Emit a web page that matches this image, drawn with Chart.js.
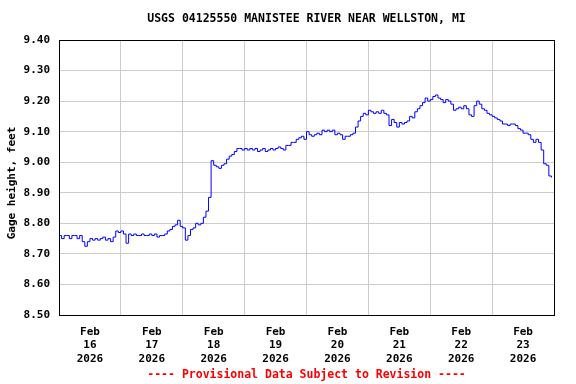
<!DOCTYPE html>
<html>
<head>
<meta charset="utf-8">
<script src="https://cdn.jsdelivr.net/npm/chart.js@4.4.1/dist/chart.umd.min.js"></script>
<style>
  html, body { margin: 0; padding: 0; background: #fff; }
  #wrap { width: 576px; height: 384px; }
</style>
</head>
<body>
<div id="wrap"><canvas id="chart" width="576" height="384"></canvas></div>
<script>
// ===== Data =====
const titleText = "USGS 04125550 MANISTEE RIVER NEAR WELLSTON, MI";
const footerText = "---- Provisional Data Subject to Revision ----";
const yAxisText = "Gage height, feet";
const monthLabel = "Feb";
const yearLabel = "2026";
const dayLabels = ["16", "17", "18", "19", "20", "21", "22", "23"];
const yMin = 8.5;
const yMax = 9.4;
const yStep = 0.1;

// hourly gage height (feet), starting Feb 16 00:00
const gageHeight = [
  8.76, 8.75, 8.76, 8.76, 8.75, 8.76, 8.76, 8.75, 8.76, 8.74, 8.725, 8.74,
  8.75, 8.745, 8.75, 8.745, 8.75, 8.755, 8.745, 8.75, 8.74, 8.755, 8.775, 8.77,
  8.775, 8.765, 8.735, 8.765, 8.76, 8.765, 8.76, 8.76, 8.765, 8.76, 8.76, 8.765,
  8.76, 8.765, 8.755, 8.76, 8.76, 8.765, 8.775, 8.78, 8.79, 8.795, 8.81, 8.79,
  8.785, 8.745, 8.76, 8.78, 8.785, 8.80, 8.795, 8.80, 8.82, 8.84, 8.885, 9.005,
  8.99, 8.985, 8.98, 8.99, 8.995, 9.01, 9.02, 9.025, 9.035, 9.045, 9.045, 9.04,
  9.045, 9.04, 9.045, 9.04, 9.045, 9.035, 9.04, 9.045, 9.035, 9.04, 9.045, 9.04,
  9.045, 9.05, 9.045, 9.04, 9.055, 9.055, 9.065, 9.065, 9.075, 9.08, 9.085, 9.075,
  9.10, 9.09, 9.085, 9.09, 9.095, 9.09, 9.105, 9.10, 9.105, 9.10, 9.105, 9.09,
  9.095, 9.09, 9.075, 9.085, 9.085, 9.09, 9.095, 9.115, 9.135, 9.15, 9.16, 9.155,
  9.17, 9.165, 9.16, 9.165, 9.16, 9.17, 9.16, 9.155, 9.12, 9.14, 9.13, 9.115,
  9.13, 9.125, 9.13, 9.135, 9.15, 9.145, 9.165, 9.175, 9.185, 9.195, 9.21, 9.20,
  9.205, 9.215, 9.22, 9.21, 9.205, 9.195, 9.205, 9.20, 9.19, 9.17, 9.175, 9.18,
  9.175, 9.185, 9.175, 9.155, 9.15, 9.185, 9.20, 9.19, 9.175, 9.17, 9.16, 9.155,
  9.15, 9.145, 9.14, 9.135, 9.125, 9.125, 9.12, 9.125, 9.125, 9.12, 9.11, 9.105,
  9.095, 9.095, 9.09, 9.075, 9.065, 9.075, 9.065, 9.04, 8.995, 8.99, 8.955, 8.95
];

const FONT = "'DejaVu Sans Mono', 'Liberation Mono', monospace";

const points = gageHeight.map((v, i) => ({ x: i, y: v }));

// frame, title, footer and y axis name, centred on the plot area like the USGS plots
const decorPlugin = {
  id: "decor",
  afterDraw(chart) {
    const a = chart.chartArea;
    const ctx = chart.ctx;
    const cx = (a.left + a.right) / 2;
    ctx.save();
    ctx.strokeStyle = "#000";
    ctx.lineWidth = 1;
    ctx.strokeRect(Math.round(a.left) + 0.5, Math.round(a.top) + 0.5,
      Math.round(a.right - a.left), Math.round(a.bottom - a.top));

    ctx.textAlign = "center";
    ctx.textBaseline = "middle";
    ctx.font = "bold 11.5px " + FONT;
    ctx.fillStyle = "#000";
    ctx.fillText(titleText, cx, 19);
    ctx.fillStyle = "#ff0000";
    ctx.fillText(footerText, cx, 375);

    ctx.font = "bold 11px " + FONT;
    ctx.fillStyle = "#000";
    ctx.translate(12, 183);
    ctx.rotate(-Math.PI / 2);
    ctx.fillText(yAxisText, 0, 0);
    ctx.restore();
  }
};

new Chart(document.getElementById("chart").getContext("2d"), {
  type: "line",
  data: {
    datasets: [{
      data: points,
      borderColor: "#0000ff",
      borderWidth: 1,
      pointRadius: 0,
      stepped: true,
      fill: false
    }]
  },
  options: {
    responsive: false,
    animation: false,
    layout: { padding: { left: 0, right: 22, top: 40, bottom: 17 } },
    plugins: {
      legend: { display: false },
      tooltip: { enabled: false }
    },
    scales: {
      x: {
        type: "linear",
        min: 0,
        max: dayLabels.length * 24,
        afterBuildTicks(scale) {
          const t = [];
          for (let v = 0; v <= dayLabels.length * 24; v += 12) t.push({ value: v });
          scale.ticks = t;
        },
        afterFit(scale) { scale.height = 52; },
        grid: {
          drawTicks: false,
          color: ctx => (ctx.tick && ctx.tick.value % 24 === 0) ? "#cccccc" : "rgba(0,0,0,0)"
        },
        border: { display: false },
        ticks: {
          autoSkip: false,
          maxRotation: 0,
          padding: 10,
          color: "#000",
          font: { family: FONT, size: 11, weight: "bold", lineHeight: 1.25 },
          callback: v => (v % 24 === 12) ? [monthLabel, dayLabels[(v - 12) / 24], yearLabel] : ""
        }
      },
      y: {
        min: yMin,
        max: yMax,
        afterFit(scale) { scale.width = 59; },
        grid: { drawTicks: false, color: "#cccccc" },
        border: { display: false },
        ticks: {
          stepSize: yStep,
          padding: 9,
          color: "#000",
          font: { family: FONT, size: 11, weight: "bold" },
          callback: v => Number(v).toFixed(2)
        }
      }
    }
  },
  plugins: [decorPlugin]
});
</script>
</body>
</html>
